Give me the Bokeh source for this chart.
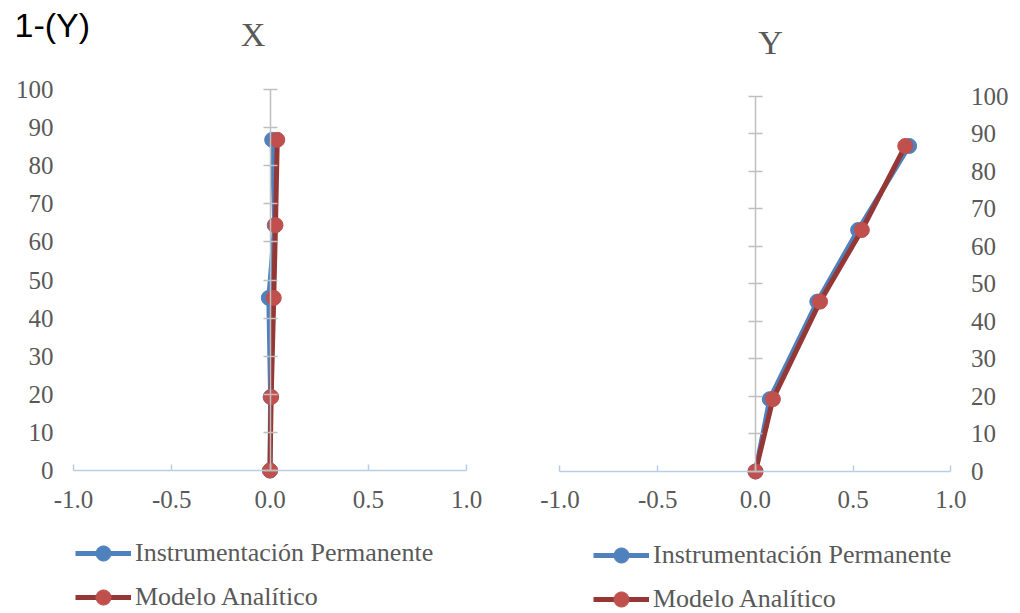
from bokeh.plotting import figure
from bokeh.models import (Range1d, LinearAxis, FixedTicker, NumeralTickFormatter,
                          Legend, LegendItem, Label)
from bokeh.layouts import row
from bokeh.embed import file_html
from bokeh.resources import INLINE

# ---- data ----
heights = [0.0, 19.3, 45.3, 64.4, 86.8]
inst_X = [0.0, 0.003, -0.006, 0.024, 0.011]
model_X = [0.0, 0.006, 0.019, 0.028, 0.037]
inst_Y = [0.0, 0.073, 0.316, 0.525, 0.786]
model_Y = [0.0, 0.089, 0.330, 0.544, 0.766]
series_names = ["Instrumentación Permanente", "Modelo Analítico"]
panel_titles = ["X", "Y"]
main_title = "1-(Y)"
y_ticks = [0, 10, 20, 30, 40, 50, 60, 70, 80, 90, 100]
x_ticks = [-1.0, -0.5, 0.0, 0.5, 1.0]

SERIF = "Liberation Serif"
GREY_TXT = "#595959"
BLUE = "#4f81bd"
RED_LINE = "#953735"
RED_MK = "#c0504d"
H = 613


def make_panel(title_text, xi, xm, label_side, width, xr, yr, title_xy, legend_xy):
    p = figure(width=width, height=H, x_range=Range1d(*xr), y_range=Range1d(*yr),
               x_axis_type=None, y_axis_type=None, output_backend="svg",
               toolbar_location=None, title=None, outline_line_color=None,
               min_border_left=0, min_border_right=0,
               min_border_top=0, min_border_bottom=0,
               background_fill_color="white", border_fill_color="white")

    # tick labels of the height axis (Excel draws them at the plot-area edge)
    lab = LinearAxis(fixed_location=(-1 if label_side == "left" else 1),
                     ticker=FixedTicker(ticks=y_ticks), bounds=(0, 100),
                     axis_line_color=None,
                     major_tick_line_color=None, minor_tick_line_color=None,
                     major_tick_in=0, major_tick_out=0,
                     major_label_text_font=SERIF, major_label_text_font_size="25px",
                     major_label_text_color=GREY_TXT, major_label_standoff=20)
    p.add_layout(lab, label_side)

    # vertical axis line crossing at x = 0
    vax = LinearAxis(fixed_location=0, ticker=FixedTicker(ticks=y_ticks), bounds=(0, 100),
                     axis_line_color="#bfbfbf", axis_line_width=1.5,
                     major_tick_line_color="#bfbfbf", major_tick_line_width=1.5,
                     major_tick_in=7, major_tick_out=7, minor_tick_line_color=None,
                     major_label_text_font_size="0px", major_label_text_alpha=0)
    p.add_layout(vax, "left")

    # horizontal axis at height 0
    hax = LinearAxis(fixed_location=0, ticker=FixedTicker(ticks=x_ticks), bounds=(-1, 1),
                     formatter=NumeralTickFormatter(format="0.0"),
                     axis_line_color="#b9cde5", axis_line_width=1.5,
                     major_tick_line_color="#b9cde5", major_tick_line_width=1.5,
                     major_tick_in=6, major_tick_out=0, minor_tick_line_color=None,
                     major_label_text_font=SERIF, major_label_text_font_size="25px",
                     major_label_text_color=GREY_TXT, major_label_standoff=20)
    p.add_layout(hax, "below")

    l1 = p.line(xi, heights, line_width=5, line_color=BLUE)
    s1 = p.scatter(xi, heights, size=15, fill_color=BLUE, line_color=BLUE)
    l2 = p.line(xm, heights, line_width=5, line_color=RED_LINE)
    s2 = p.scatter(xm, heights, size=15, fill_color=RED_MK, line_color=RED_MK)

    legend = Legend(items=[LegendItem(label=series_names[0], renderers=[l1, s1]),
                           LegendItem(label=series_names[1], renderers=[l2, s2])],
                    location=legend_xy, orientation="vertical",
                    glyph_width=56, glyph_height=38, label_standoff=4, spacing=6,
                    padding=0, margin=0, border_line_color=None,
                    background_fill_alpha=0,
                    label_text_font=SERIF, label_text_font_size="26px",
                    label_text_color=GREY_TXT)
    p.add_layout(legend, "center")

    p.add_layout(Label(x=title_xy[0], y=title_xy[1], x_units="screen", y_units="screen",
                       text=title_text, text_font=SERIF, text_font_size="34px",
                       text_color=GREY_TXT, text_align="center",
                       text_baseline="alphabetic"))
    return p


left = make_panel(panel_titles[0], inst_X, model_X, "left", 520,
                  (-1.3715, 1.2748), (-37.53, 123.36), (252.5, 579), (75, -3))
left.add_layout(Label(x=14, y=589, x_units="screen", y_units="screen", text=main_title,
                      text_font="Liberation Sans", text_font_size="34px", text_color="black",
                      text_align="left", text_baseline="alphabetic"))

right = make_panel(panel_titles[1], inst_Y, model_Y, "right", 500,
                   (-1.202, 1.3555), (-37.87, 125.6), (250, 571), (73, -5))

layout = row(left, right)
open("out.html", "w").write(file_html(layout, INLINE))
